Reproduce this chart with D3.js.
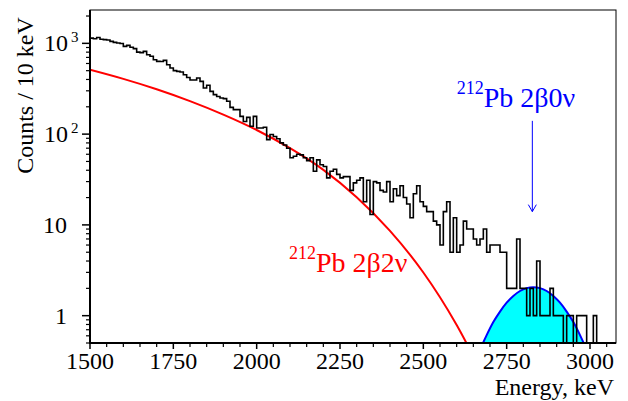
<!DOCTYPE html>
<html>
<head>
<meta charset="utf-8">
<script src="https://cdn.jsdelivr.net/npm/d3@7"></script>
<style>
  html, body { margin: 0; padding: 0; background: #fff; }
  svg { display: block; font-family: "Liberation Serif", "DejaVu Serif", serif; }
</style>
</head>
<body>
<svg id="chart" width="628" height="401"></svg>
<script>
// Гистограмма: 10 кэВ на бин, начиная с 1500 кэВ
const binLow = 1500;
const binWidth = 10;
const counts = [
  1143, 1125, 1160, 1110, 1100, 1090, 1050, 1025, 1010, 995,
  925, 950, 905, 875, 800, 790, 815, 750, 720, 660,
  633, 630, 650, 580, 535, 500, 491, 483, 451, 420,
  395, 395, 415, 381, 322, 345, 296, 272, 260, 250,
  246, 230, 197, 186, 186, 157, 138, 153, 122, 157,
  117, 117, 119, 87, 99, 94, 89, 80, 76, 70,
  55, 57, 60, 59, 55, 51, 55, 39, 52, 46,
  44, 33, 39, 41, 36, 33, 34, 34, 24, 29,
  31, 33, 18, 31, 13, 30, 29, 24, 23, 30,
  18, 25, 21, 27, 20, 17, 12, 22, 27, 18,
  16, 14, 14, 11, 10, 6, 14, 18, 5, 12,
  5, 6, 11, 9, 9, 7, 6, 7, 9, 5,
  6, 6, 6, 5, 5, 2, 2, 2, 7, 2,
  2, 1, 2, 1, 4, 1, 1, 1, 2, 1,
  1, 1, 0, 1, 1, 0, 1, 1, 1, 0, 0, 1
];

// Фит 2β2ν (красная кривая)
const fitEnergy = [1500, 1600, 1700, 1800, 1900, 2000, 2100, 2200, 2300, 2400, 2500, 2600, 2700];
const fitValue  = [512, 406, 312, 231, 164, 111, 70, 40.4, 20.2, 8.6, 2.99, 0.79, 0.15];

// Ожидаемый пик 2β0ν (синяя кривая)
const peakEnergy = [2650, 2670, 2690, 2710, 2730, 2750, 2770, 2790, 2810, 2830, 2850, 2870, 2890, 2910, 2930, 2950, 2970, 2990, 3010];
const peakValue  = [0.27, 0.42, 0.61, 0.85, 1.11, 1.39, 1.65, 1.87, 2.01, 2.06, 2.01, 1.87, 1.65, 1.39, 1.11, 0.85, 0.61, 0.42, 0.27];

const xTickValues = [1500, 1750, 2000, 2250, 2500, 2750, 3000];
const yTickValues = [1, 10, 100, 1000];
const yTickBase = ['1', '10', '10', '10'];
const yTickExp = ['', '', '2', '3'];

// Аннотации (в координатах данных)
const arrowEnergy = 2827;
const arrowFrom = 140, arrowTo = 14;
const label0v = { e: 2600, v: 200, iso: '212', text: 'Pb 2\u03b20\u03bd' };
const label2v = { e: 2097, v: 3.0, iso: '212', text: 'Pb 2\u03b22\u03bd' };

// Геометрия
const W = 628, H = 401;
const margin = { top: 10, right: 12, bottom: 58, left: 90 };
const x0 = margin.left, x1 = W - margin.right;
const y0 = H - margin.bottom, y1 = margin.top;

const svg = d3.select('#chart');

const x = d3.scaleLinear().domain([1500, 3078]).range([x0, x1]);
const y = d3.scaleLog().domain([0.5, 2330]).range([y0, y1]);

svg.append('defs').append('clipPath').attr('id', 'plot')
  .append('rect').attr('x', x0).attr('y', y1).attr('width', x1 - x0).attr('height', y0 - y1);

const plot = svg.append('g').attr('clip-path', 'url(#plot)');

// Синий пик с заливкой
const peakPts = peakEnergy.map((e, i) => [e, peakValue[i]]);
plot.append('path')
  .attr('d', d3.area()
    .x(d => x(d[0]))
    .y0(y0)
    .y1(d => y(d[1]))
    .curve(d3.curveMonotoneX)(peakPts))
  .attr('fill', '#00ffff');
plot.append('path')
  .attr('d', d3.line().x(d => x(d[0])).y(d => y(d[1])).curve(d3.curveMonotoneX)(peakPts))
  .attr('fill', 'none')
  .attr('stroke', '#0000ff')
  .attr('stroke-width', 2);

// Красный фит
const fitPts = fitEnergy.map((e, i) => [e, fitValue[i]]);
plot.append('path')
  .attr('d', d3.line().x(d => x(d[0])).y(d => y(d[1])).curve(d3.curveCatmullRom)(fitPts))
  .attr('fill', 'none')
  .attr('stroke', '#ff0000')
  .attr('stroke-width', 2);

// Гистограмма (ступеньки), нулевые бины уходят под ось
const floorV = 0.2;
const histPts = counts.map((c, i) => [binLow + i * binWidth, c > 0 ? c : floorV]);
const lastEdge = binLow + counts.length * binWidth;
histPts.push([lastEdge, counts[counts.length - 1] || floorV]);
histPts.push([lastEdge, floorV]);
plot.append('path')
  .attr('d', d3.line().x(d => x(d[0])).y(d => y(d[1])).curve(d3.curveStepAfter)(histPts))
  .attr('fill', 'none')
  .attr('stroke', '#000')
  .attr('stroke-width', 1.6);

// Рамка
svg.append('rect')
  .attr('x', x0).attr('y', y1)
  .attr('width', x1 - x0).attr('height', y0 - y1)
  .attr('fill', 'none')
  .attr('stroke', '#000')
  .attr('stroke-width', 1);

// Ось X
const xMinor = d3.range(1500, 3078, 50).filter(v => v % 250 !== 0);
const ax = svg.append('g');
ax.selectAll('.xmaj').data(xTickValues).enter().append('line')
  .attr('x1', d => x(d)).attr('x2', d => x(d))
  .attr('y1', y0).attr('y2', y0 + 6)
  .attr('stroke', '#000').attr('stroke-width', 1.5);
ax.selectAll('.xmin').data(xMinor).enter().append('line')
  .attr('x1', d => x(d)).attr('x2', d => x(d))
  .attr('y1', y0).attr('y2', y0 + 4)
  .attr('stroke', '#000').attr('stroke-width', 1.2);
ax.selectAll('.xlab').data(xTickValues).enter().append('text')
  .attr('x', d => x(d)).attr('y', y0 + 26)
  .attr('text-anchor', 'middle')
  .attr('font-size', '24px')
  .text(d => d);
ax.append('line')
  .attr('x1', x0 - 1).attr('x2', x1).attr('y1', y0).attr('y2', y0)
  .attr('stroke', '#000').attr('stroke-width', 2);

// Ось Y (лог)
const yMinor = [];
[0.1, 1, 10, 100, 1000].forEach(dec => {
  for (let m = 2; m <= 9; m++) {
    const v = m * dec;
    if (v >= 0.5 && v <= 2330) yMinor.push(v);
  }
});
const ay = svg.append('g');
ay.selectAll('.ymaj').data(yTickValues).enter().append('line')
  .attr('x1', x0 - 8).attr('x2', x0)
  .attr('y1', d => y(d)).attr('y2', d => y(d))
  .attr('stroke', '#000').attr('stroke-width', 1.5);
ay.selectAll('.ymin').data(yMinor).enter().append('line')
  .attr('x1', x0 - 4).attr('x2', x0)
  .attr('y1', d => y(d)).attr('y2', d => y(d))
  .attr('stroke', '#000').attr('stroke-width', 1.2);
ay.append('line')
  .attr('x1', x0).attr('x2', x0).attr('y1', y1).attr('y2', y0 + 1)
  .attr('stroke', '#000').attr('stroke-width', 2);

yTickValues.forEach((v, i) => {
  const hasExp = yTickExp[i] !== '';
  ay.append('text')
    .attr('x', hasExp ? 68 : 67)
    .attr('y', y(v) + 8)
    .attr('text-anchor', 'end')
    .attr('font-size', '24px')
    .text(yTickBase[i]);
  if (hasExp) {
    ay.append('text')
      .attr('x', 71)
      .attr('y', y(v) - 1)
      .attr('font-size', '15px')
      .text(yTickExp[i]);
  }
});

// Подписи осей
svg.append('text')
  .attr('transform', `translate(33, ${(y0 + y1) / 2 - 81}) rotate(-90)`)
  .attr('text-anchor', 'middle')
  .attr('font-size', '24px')
  .text('Counts / 10 keV');
svg.append('text')
  .attr('x', 614).attr('y', 395)
  .attr('text-anchor', 'end')
  .attr('font-size', '24px')
  .text('Energy, keV');

// Стрелка к пику 2β0ν
const ax0 = x(arrowEnergy);
svg.append('line')
  .attr('x1', ax0).attr('x2', ax0)
  .attr('y1', y(arrowFrom)).attr('y2', y(arrowTo))
  .attr('stroke', '#0000ff').attr('stroke-width', 1);
svg.append('path')
  .attr('d', `M${ax0 - 4},${y(arrowTo) - 7} L${ax0},${y(arrowTo)} L${ax0 + 4},${y(arrowTo) - 7}`)
  .attr('fill', 'none')
  .attr('stroke', '#0000ff').attr('stroke-width', 1);

// Надписи
function isoLabel(lab, color) {
  const t = svg.append('text')
    .attr('x', x(lab.e)).attr('y', y(lab.v))
    .attr('fill', color)
    .attr('font-size', '28px');
  t.append('tspan').attr('font-size', '18px').attr('dy', -13).text(lab.iso);
  t.append('tspan').attr('dy', 13).text(lab.text);
}
isoLabel(label0v, '#0000ff');
isoLabel(label2v, '#ff0000');
</script>
</body>
</html>
